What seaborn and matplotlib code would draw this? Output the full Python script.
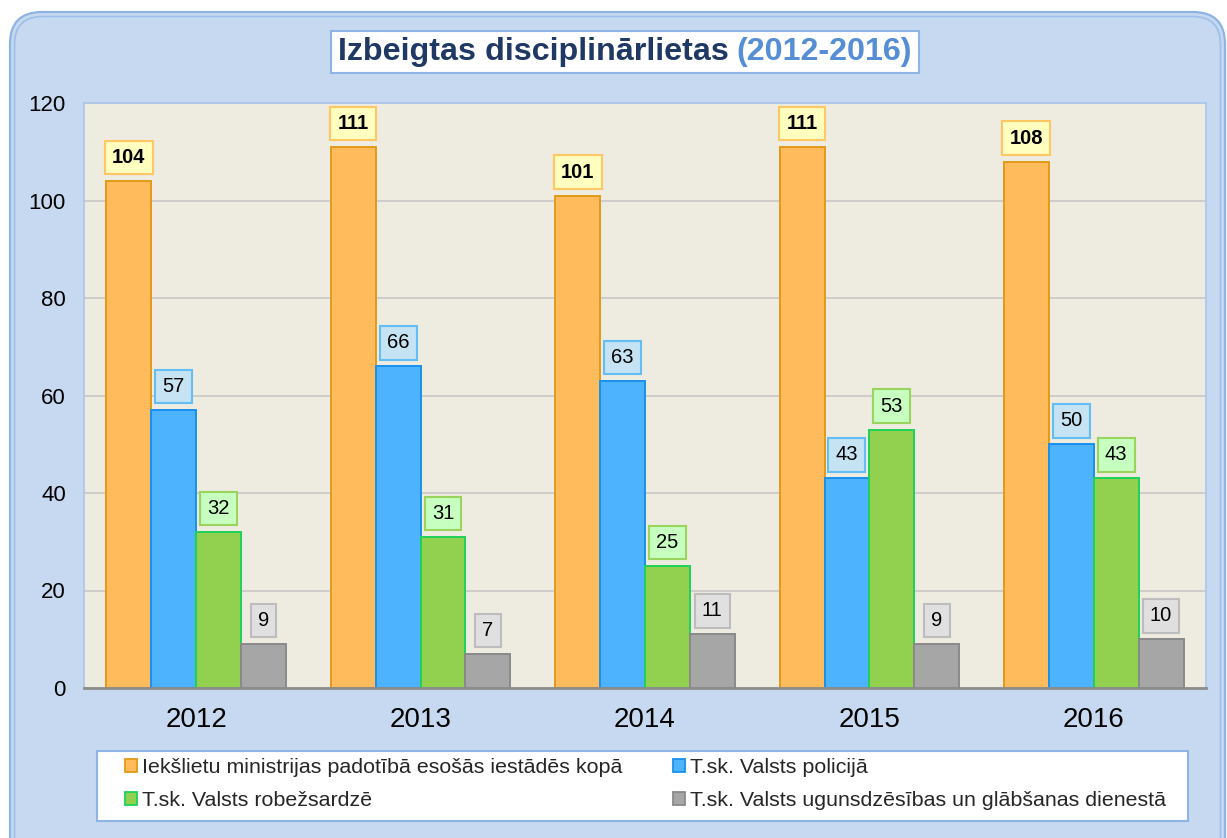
import numpy as np
import pandas as pd
import matplotlib.pyplot as plt
import seaborn as sns
from matplotlib.patches import FancyBboxPatch, Rectangle, Patch

# data
years = ['2012', '2013', '2014', '2015', '2016']
series = ['Iekšlietu ministrijas padotībā esošās iestādēs kopā',
          'T.sk. Valsts policijā',
          'T.sk. Valsts robežsardzē',
          'T.sk. Valsts ugunsdzēsības un glābšanas dienestā']
total = [104, 111, 101, 111, 108]
police = [57, 66, 63, 43, 50]
border = [32, 31, 25, 53, 43]
fire = [9, 7, 11, 9, 10]

fill_colors = ['#FFBB5C', '#4DB3FF', '#92D050', '#A6A6A6']
edge_colors = ['#E39A17', '#1A90EC', '#1FD15A', '#8A8A8A']
label_fill = ['#FFFFC0', '#C5E3F2', '#C6FFC0', '#E0E0E0']
label_edge = ['#FFC863', '#62BEF5', '#9BD45C', '#BDBDBD']

df = pd.DataFrame({
    'year': years * 4,
    'series': np.repeat(series, len(years)),
    'value': total + police + border + fire,
})

sns.set_theme(style='white')
plt.rcParams['font.family'] = ['Liberation Sans', 'DejaVu Sans']

W, H = 1227, 838
fig = plt.figure(figsize=(W / 100, H / 100), dpi=100)
fig.patch.set_facecolor('white')

# rounded light-blue panel with double border (inches coords)
outer = FancyBboxPatch((0.10, -0.6), 12.15, 8.86,
                       boxstyle='round,pad=0,rounding_size=0.32',
                       transform=fig.dpi_scale_trans, facecolor='#C6D9F0',
                       edgecolor='#8DB4E2', lw=1.6, zorder=-2)
inner = FancyBboxPatch((0.145, -0.6), 12.06, 8.815,
                       boxstyle='round,pad=0,rounding_size=0.28',
                       transform=fig.dpi_scale_trans, facecolor='none',
                       edgecolor='#9DBFE8', lw=1.2, zorder=-1)
fig.add_artist(outer)
fig.add_artist(inner)

ax = fig.add_axes([84 / W, 1 - 688 / H, (1206 - 84) / W, (688 - 103) / H])
ax.set_facecolor('#EEEBE1')

sns.barplot(data=df, x='year', y='value', hue='series', order=years,
            hue_order=series, palette=dict(zip(series, fill_colors)),
            saturation=1, width=0.8, gap=0, legend=False, ax=ax)

for i, cont in enumerate(ax.containers):
    for bar in cont:
        bar.set_edgecolor(edge_colors[i])
        bar.set_linewidth(1.4)
    vals = [int(round(v)) for v in cont.datavalues]
    ax.bar_label(cont, labels=[str(v) for v in vals], padding=10,
                 fontsize=14.5, fontweight='bold' if i == 0 else 'normal',
                 color='black',
                 bbox=dict(boxstyle='square,pad=0.36', facecolor=label_fill[i],
                           edgecolor=label_edge[i], lw=1.5))

ax.set_xlim(-0.5, 4.5)
ax.set_ylim(0, 120)
ax.set_yticks(range(0, 121, 20))
ax.set_xlabel('')
ax.set_ylabel('')
ax.yaxis.grid(True, color='#C8C8C8', lw=1.2)
ax.set_axisbelow(True)
ax.tick_params(axis='x', labelsize=20, pad=14, length=0, colors='black')
ax.tick_params(axis='y', labelsize=16, pad=13, length=0, colors='black')
for side in ['left', 'top', 'right']:
    ax.spines[side].set_color('#A9C6EA')
    ax.spines[side].set_linewidth(1.2)
ax.spines['bottom'].set_color('#8C8C8C')
ax.spines['bottom'].set_linewidth(2)

# legend frame drawn separately so the entries can be inset
fig.add_artist(Rectangle((97 / W, 1 - 821 / H), (1188 - 97) / W, 70 / H,
                         transform=fig.transFigure, facecolor='white',
                         edgecolor='#8DB4E2', lw=1.5, zorder=0.5))
# column-wise fill: orange, green | blue, grey
handles = [Patch(facecolor=fill_colors[i], edgecolor=edge_colors[i], lw=1.3,
                 label=series[i]) for i in [0, 2, 1, 3]]
leg = fig.legend(handles=handles, loc='center left',
                 bbox_to_anchor=(125 / W, 1 - 819 / H, (1166 - 125) / W, 70 / H),
                 mode='expand', ncol=2, fontsize=15.4, frameon=False,
                 handlelength=0.55, handleheight=0.55,
                 handletextpad=0.25, labelspacing=0.66, borderpad=0,
                 borderaxespad=0)

# two-colour title inside a white box
ty = 1 - 52 / H
t1 = fig.text(0, ty, 'Izbeigtas disciplinārlietas', color='#1F3864',
              fontsize=23.2, fontweight='bold', ha='left', va='center')
t2 = fig.text(0, ty, '(2012-2016)', color='#558ED5',
              fontsize=23.2, fontweight='bold', ha='left', va='center')
fig.canvas.draw()
r = fig.canvas.get_renderer()
w1 = t1.get_window_extent(r).width
w2 = t2.get_window_extent(r).width
space = 8
total_w = w1 + space + w2
x0 = 625 - total_w / 2
t1.set_x(x0 / W)
t2.set_x((x0 + w1 + space) / W)
fig.add_artist(Rectangle(((x0 - 7) / W, 1 - 73 / H), (total_w + 14) / W, 42 / H,
                         transform=fig.transFigure, facecolor='white',
                         edgecolor='#8DB4E2', lw=1.5, zorder=0.5))

fig.savefig('out.png', dpi=100)
